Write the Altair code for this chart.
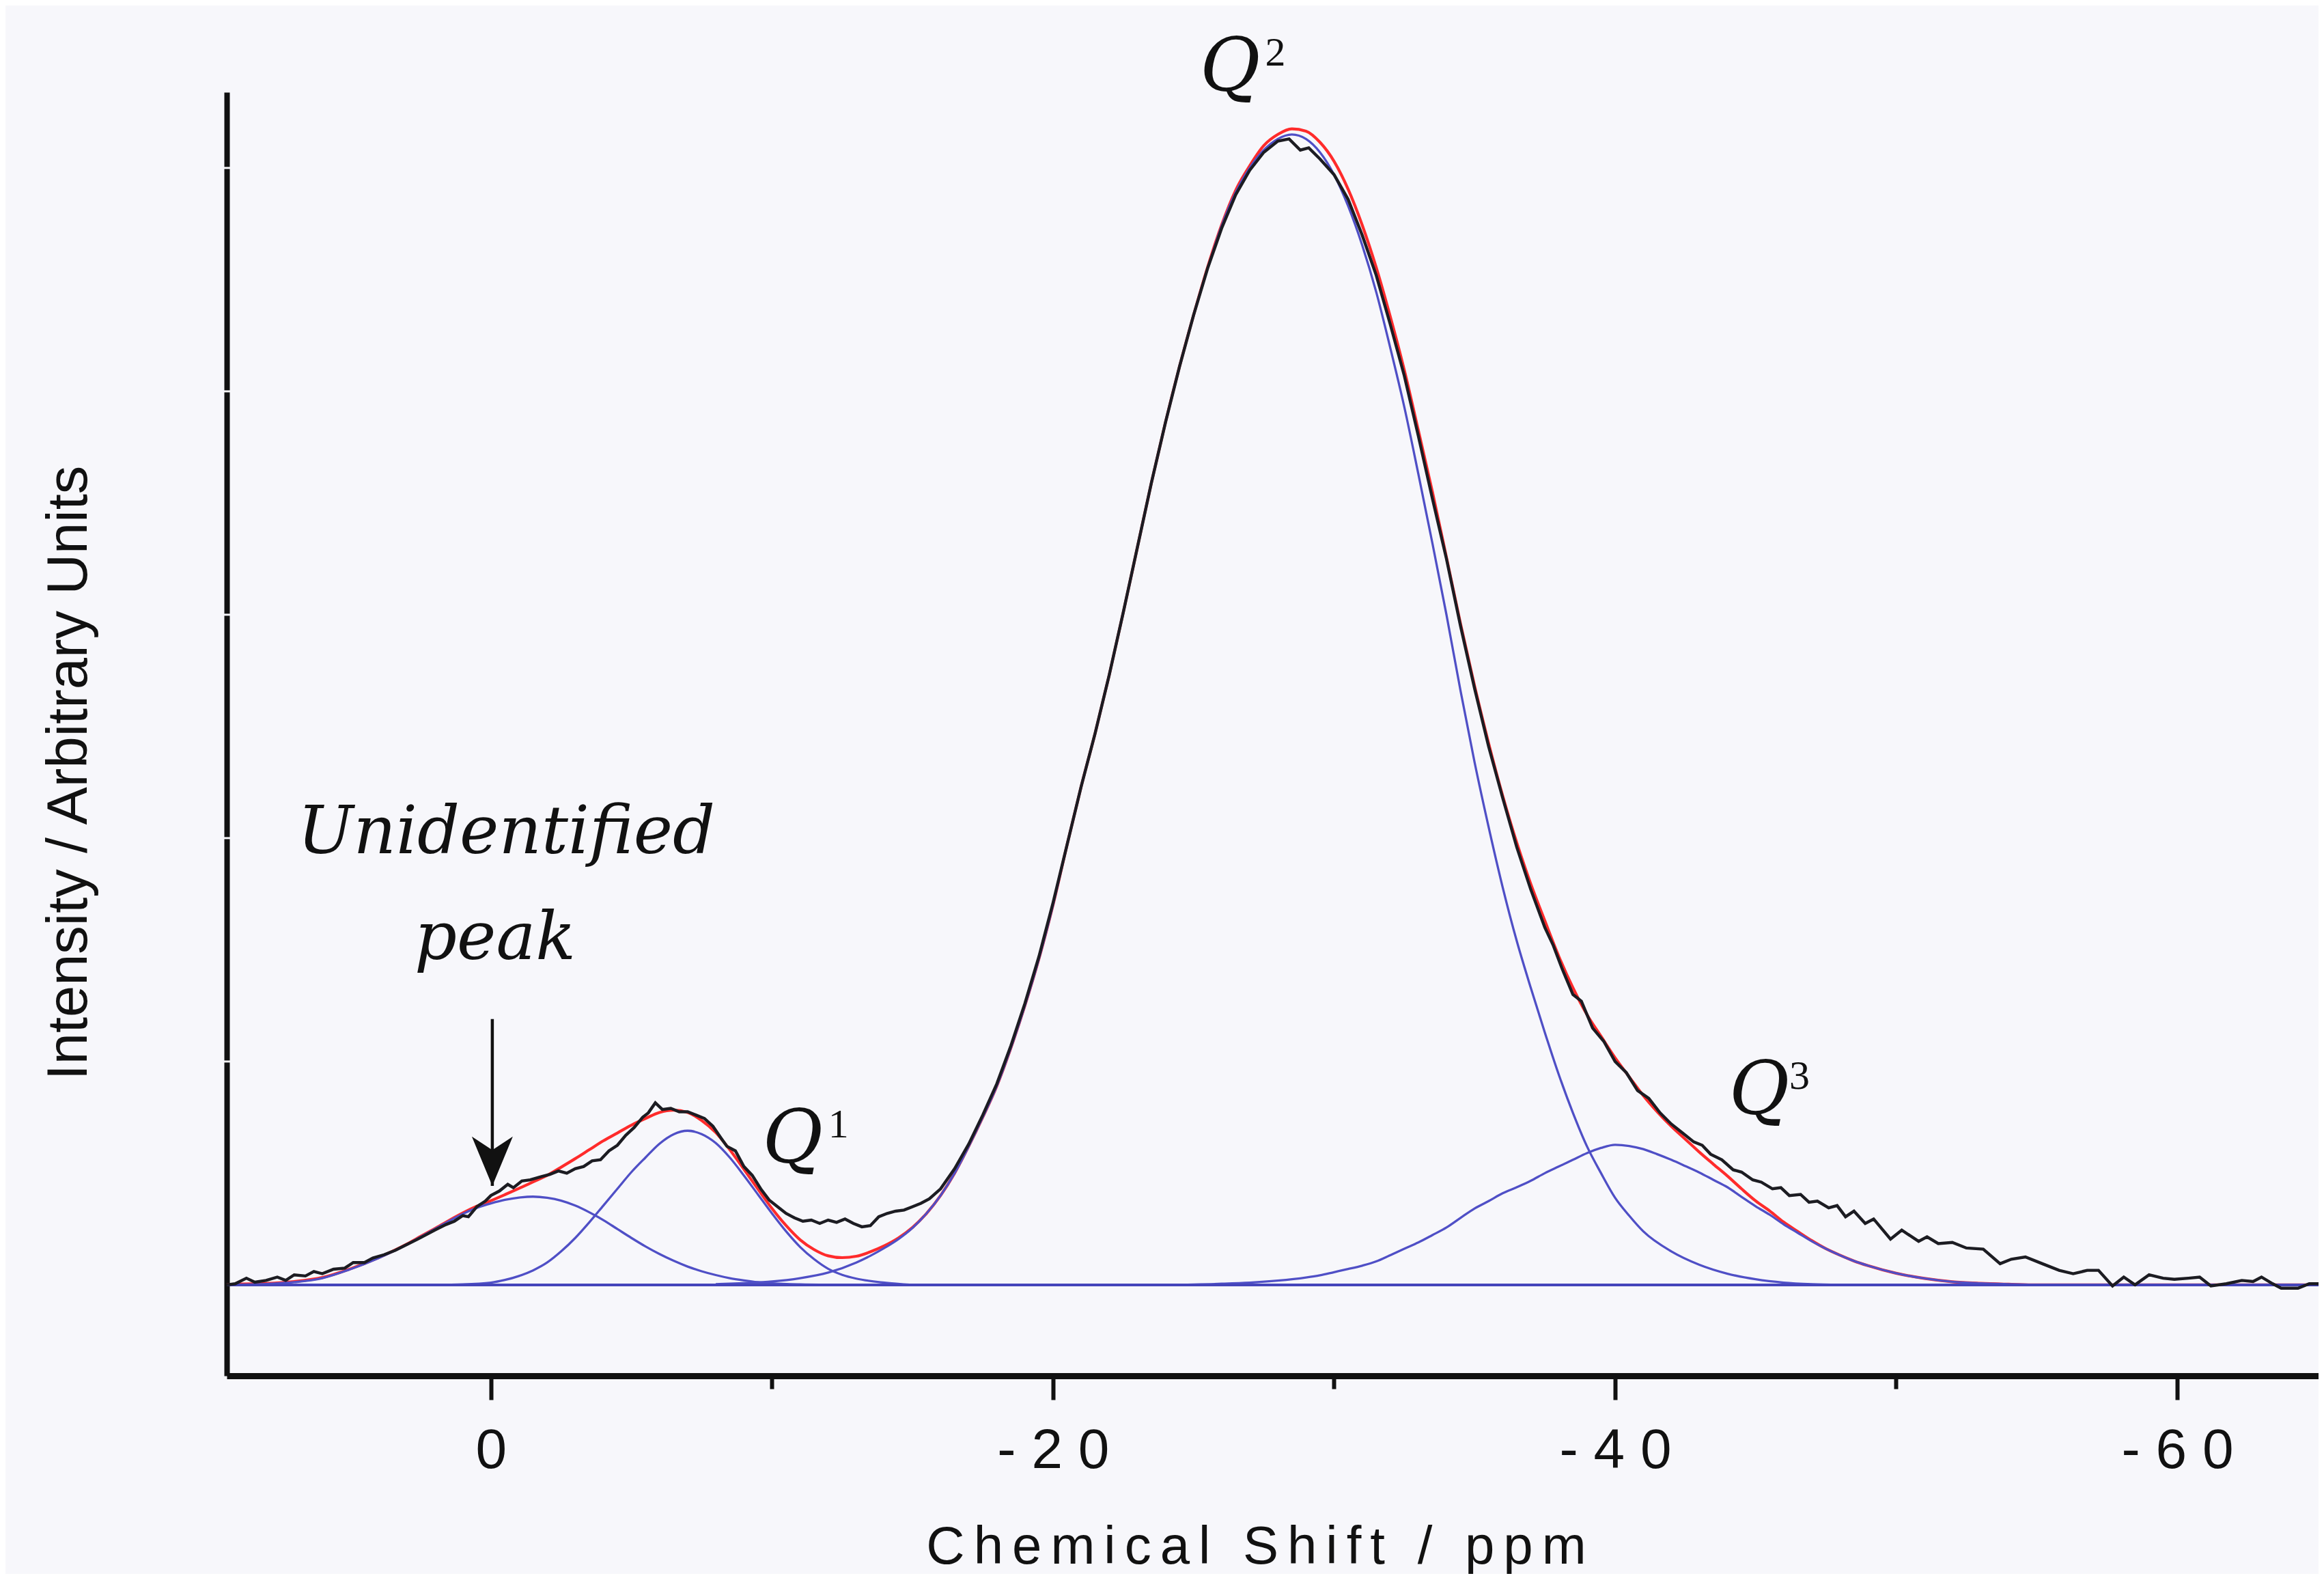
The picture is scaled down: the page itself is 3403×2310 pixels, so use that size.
import altair as alt
import pandas as pd

# ---------------- data ----------------
# chemical shift in ppm, intensity in arbitrary units (baseline = 0, one y tick = 1)
DATA_X = [9.4, 9.1, 8.7, 8.4, 8.0, 7.6, 7.3, 7.0, 6.6, 6.3, 6.0, 5.6, 5.2, 4.9, 4.5, 4.2, 3.8, 3.4,
          3.0, 2.6, 2.3, 2.0, 1.6, 1.3, 1.0, 0.8, 0.5, 0.2, 0.0, -0.3, -0.6, -0.8, -1.1, -1.4,
          -1.8, -2.1, -2.4, -2.7, -3.0, -3.3, -3.6, -3.9, -4.2, -4.5, -4.8, -5.1, -5.4, -5.6,
          -5.85, -6.1, -6.4, -6.7, -7.0, -7.3, -7.6, -7.9, -8.2, -8.4, -8.7, -9.0, -9.3, -9.6,
          -9.9, -10.2, -10.5, -10.8, -11.1, -11.4, -11.7, -12.0, -12.3, -12.6, -12.9, -13.2,
          -13.5, -13.8, -14.1, -14.4, -14.7, -15.0, -15.3, -15.6, -16.0, -16.5, -17.0, -17.5,
          -18.0, -18.5, -19.0, -19.5, -20.0, -20.5, -21.0, -21.5, -22.0, -22.5, -23.0, -23.5,
          -24.0, -24.5, -25.0, -25.5, -26.0, -26.5, -27.0, -27.5, -28.0, -28.4, -28.8, -29.1,
          -29.5, -30.0, -30.5, -31.0, -31.5, -32.0, -32.5, -33.0, -33.5, -34.0, -34.5, -35.0,
          -35.5, -36.0, -36.5, -37.0, -37.5, -37.8, -38.1, -38.5, -38.8, -39.2, -39.6, -40.0,
          -40.4, -40.8, -41.2, -41.6, -42.0, -42.4, -42.8, -43.1, -43.4, -43.8, -44.2, -44.5,
          -44.9, -45.2, -45.6, -45.9, -46.2, -46.6, -46.9, -47.2, -47.6, -47.9, -48.2, -48.5,
          -48.9, -49.2, -49.8, -50.2, -50.8, -51.1, -51.5, -52.0, -52.5, -53.1, -53.7, -54.1,
          -54.6, -55.2, -55.8, -56.3, -56.8, -57.2, -57.7, -58.1, -58.5, -59.0, -59.5, -59.9,
          -60.4, -60.8, -61.2, -61.75, -62.3, -62.7, -63.0, -63.4, -63.7, -64.3, -64.7, -65.03]
DATA_Y = [0.0, 0.005, 0.03, 0.012, 0.02, 0.035, 0.02, 0.045, 0.04, 0.06, 0.05, 0.07, 0.075, 0.1,
          0.1, 0.12, 0.135, 0.155, 0.18, 0.205, 0.225, 0.245, 0.27, 0.285, 0.31, 0.305, 0.35,
          0.375, 0.40, 0.42, 0.45, 0.435, 0.465, 0.47, 0.485, 0.495, 0.51, 0.50, 0.52, 0.53,
          0.555, 0.56, 0.60, 0.625, 0.67, 0.705, 0.75, 0.77, 0.815, 0.785, 0.79, 0.775, 0.775,
          0.76, 0.745, 0.71, 0.655, 0.62, 0.60, 0.53, 0.49, 0.43, 0.38, 0.35, 0.32, 0.30, 0.285,
          0.29, 0.275, 0.29, 0.28, 0.295, 0.275, 0.26, 0.265, 0.305, 0.32, 0.33, 0.335, 0.35,
          0.365, 0.385, 0.43, 0.52, 0.63, 0.76, 0.90, 1.07, 1.26, 1.47, 1.71, 1.97, 2.23, 2.47,
          2.73, 3.01, 3.30, 3.59, 3.86, 4.11, 4.34, 4.55, 4.73, 4.88, 4.99, 5.07, 5.12, 5.13,
          5.08, 5.09, 5.04, 4.97, 4.86, 4.70, 4.52, 4.30, 4.07, 3.80, 3.52, 3.25, 2.95, 2.67,
          2.41, 2.18, 1.96, 1.77, 1.60, 1.52, 1.42, 1.30, 1.27, 1.15, 1.09, 1.00, 0.95, 0.87,
          0.835, 0.77, 0.72, 0.68, 0.64, 0.625, 0.585, 0.56, 0.515, 0.505, 0.47, 0.46, 0.43, 0.435,
          0.40, 0.405, 0.37, 0.375, 0.345, 0.355, 0.305, 0.33, 0.275, 0.295, 0.205, 0.245, 0.195,
          0.215, 0.185, 0.19, 0.165, 0.16, 0.095, 0.115, 0.125, 0.095, 0.065, 0.05, 0.065, 0.065,
          -0.005, 0.035, 0.0, 0.045, 0.03, 0.025, 0.03, 0.035, -0.005, 0.005, 0.02, 0.015, 0.035,
          0.005, -0.015, -0.015, 0.005, 0.005]

FIT_X = [9.4, 9.0, 8.0, 7.0, 6.0, 5.0, 4.0, 3.0, 2.5, 2.0, 1.5, 1.0, 0.5, 0.0, -0.5, -1.0, -1.5,
         -2.0, -2.5, -3.0, -3.5, -4.0, -4.5, -5.0, -5.5, -6.0, -6.5, -7.0, -7.5, -8.0, -8.5,
         -9.0, -9.5, -10.0, -10.5, -11.0, -11.5, -12.0, -12.5, -13.0, -13.5, -14.0, -14.5,
         -15.0, -15.5, -16.0, -16.5, -17.0, -17.5, -18.0, -18.5, -19.0, -19.5, -20.0, -20.5,
         -21.0, -21.5, -22.0, -22.5, -23.0, -23.5, -24.0, -24.5, -25.0, -25.5, -26.0, -26.5,
         -27.0, -27.5, -28.0, -28.5, -29.0, -29.5, -30.0, -30.5, -31.0, -31.5, -32.0, -32.5,
         -33.0, -33.5, -34.0, -34.5, -35.0, -35.5, -36.0, -36.5, -37.0, -37.5, -38.0, -38.5,
         -39.0, -39.5, -40.0, -40.5, -41.0, -41.5, -42.0, -42.5, -43.0, -43.5, -44.0, -44.5,
         -45.0, -45.5, -46.0, -46.5, -47.0, -47.5, -48.0, -48.5, -49.0, -50.0, -51.0, -52.0,
         -53.0, -54.0, -55.0, -65.03]
FIT_Y = [0.0, 0.003, 0.006, 0.015, 0.033, 0.072, 0.122, 0.182, 0.217, 0.252, 0.288, 0.322, 0.352,
         0.377, 0.404, 0.432, 0.461, 0.49, 0.527, 0.565, 0.605, 0.645, 0.68, 0.715, 0.745, 0.772,
         0.782, 0.772, 0.736, 0.682, 0.605, 0.518, 0.429, 0.342, 0.266, 0.202, 0.158, 0.13,
         0.122, 0.128, 0.148, 0.175, 0.21, 0.257, 0.32, 0.40, 0.50, 0.62, 0.75, 0.89, 1.06, 1.25,
         1.46, 1.70, 1.97, 2.23, 2.47, 2.73, 3.01, 3.30, 3.59, 3.86, 4.11, 4.34, 4.555, 4.745,
         4.90, 5.01, 5.10, 5.15, 5.175, 5.165, 5.115, 5.03, 4.905, 4.745, 4.555, 4.335, 4.095,
         3.825, 3.55, 3.257, 2.96, 2.682, 2.425, 2.19, 1.98, 1.795, 1.63, 1.47, 1.33, 1.21, 1.113,
         1.017, 0.932, 0.848, 0.775, 0.71, 0.652, 0.594, 0.54, 0.487, 0.43, 0.376, 0.331, 0.281,
         0.239, 0.198, 0.162, 0.133, 0.107, 0.086, 0.052, 0.029, 0.014, 0.007, 0.003, 0.0, 0.0]

U_X = [9.4, 9.0, 8.0, 7.0, 6.0, 5.0, 4.0, 3.0, 2.5, 2.0, 1.5, 1.0, 0.5, 0.0, -0.5, -1.0, -1.5,
       -2.0, -2.5, -3.0, -3.5, -4.0, -4.5, -5.0, -5.5, -6.0, -6.5, -7.0, -7.5, -8.0, -8.5,
       -9.0, -9.5, -10.0, -11.0, -12.0]
U_Y = [0.0, 0.001, 0.004, 0.012, 0.03, 0.07, 0.12, 0.18, 0.215, 0.25, 0.285, 0.318, 0.345, 0.365,
       0.381, 0.391, 0.395, 0.39, 0.377, 0.355, 0.325, 0.29, 0.25, 0.21, 0.172, 0.138, 0.108,
       0.082, 0.061, 0.044, 0.03, 0.02, 0.012, 0.007, 0.002, 0.0]

Q1_X = [2.0, 1.0, 0.0, -0.5, -1.0, -1.5, -2.0, -2.5, -3.0, -3.5, -4.0, -4.5, -5.0, -5.5, -6.0,
        -6.5, -7.0, -7.5, -8.0, -8.5, -9.0, -9.5, -10.0, -10.5, -11.0, -11.5, -12.0, -12.5,
        -13.0, -14.0, -15.0]
Q1_Y = [0.0, 0.002, 0.01, 0.022, 0.04, 0.065, 0.10, 0.15, 0.21, 0.28, 0.355, 0.43, 0.505, 0.57,
        0.632, 0.674, 0.69, 0.675, 0.635, 0.57, 0.49, 0.405, 0.32, 0.24, 0.17, 0.115, 0.072,
        0.045, 0.028, 0.01, 0.0]

Q2_X = [-8.0, -9.0, -10.0, -11.0, -12.0, -13.0, -13.5, -14.0, -14.5, -15.0, -15.5, -16.0, -16.5,
        -17.0, -17.5, -18.0, -18.5, -19.0, -19.5, -20.0, -20.5, -21.0, -21.5, -22.0, -22.5,
        -23.0, -23.5, -24.0, -24.5, -25.0, -25.5, -26.0, -26.5, -27.0, -27.5, -28.0, -28.5,
        -29.0, -29.5, -30.0, -30.5, -31.0, -31.5, -32.0, -32.5, -33.0, -33.5, -34.0, -34.5,
        -35.0, -35.5, -36.0, -36.5, -37.0, -37.5, -38.0, -38.5, -39.0, -39.5, -40.0, -40.5,
        -41.0, -42.0, -43.0, -44.0, -45.0, -46.0, -47.0, -48.0]
Q2_Y = [0.003, 0.008, 0.015, 0.03, 0.055, 0.10, 0.13, 0.165, 0.205, 0.255, 0.32, 0.40, 0.50, 0.62,
        0.75, 0.89, 1.06, 1.25, 1.46, 1.70, 1.97, 2.23, 2.47, 2.73, 3.01, 3.30, 3.59, 3.86, 4.11,
        4.34, 4.55, 4.74, 4.89, 5.00, 5.08, 5.13, 5.15, 5.13, 5.07, 4.97, 4.83, 4.655, 4.445, 4.195,
        3.93, 3.63, 3.32, 3.00, 2.66, 2.34, 2.05, 1.78, 1.54, 1.33, 1.13, 0.94, 0.77, 0.62, 0.50,
        0.39, 0.31, 0.24, 0.15, 0.09, 0.05, 0.025, 0.01, 0.003, 0.0]

Q3_X = [-24.0, -26.0, -27.0, -28.0, -29.0, -29.5, -30.0, -30.5, -31.0, -31.5, -32.0, -32.5, -33.0,
        -33.5, -34.0, -34.5, -35.0, -35.5, -36.0, -36.5, -37.0, -37.5, -38.0, -38.5, -39.0,
        -39.5, -40.0, -40.5, -41.0, -41.5, -42.0, -42.5, -43.0, -43.5, -44.0, -44.5, -45.0,
        -45.5, -46.0, -46.5, -47.0, -47.5, -48.0, -48.5, -49.0, -50.0, -51.0, -52.0, -53.0,
        -54.0, -55.0]
Q3_Y = [0.0, 0.005, 0.01, 0.019, 0.033, 0.043, 0.057, 0.071, 0.086, 0.105, 0.133, 0.162, 0.19,
        0.223, 0.257, 0.30, 0.342, 0.375, 0.41, 0.437, 0.466, 0.50, 0.53, 0.56, 0.59, 0.613,
        0.627, 0.622, 0.608, 0.585, 0.56, 0.532, 0.503, 0.47, 0.437, 0.394, 0.352, 0.314, 0.271,
        0.233, 0.195, 0.162, 0.133, 0.107, 0.086, 0.052, 0.029, 0.014, 0.007, 0.003, 0.0]

BASE_X = [9.4, -65.03]
BASE_Y = [0.0, 0.0]

X_DOMAIN = [9.4, -65.03]
Y_DOMAIN = [-0.407, 5.339]
X_TICKS = [0, -10, -20, -30, -40, -50, -60]
Y_TICKS = [1, 2, 3, 4, 5]

TEXT_LABELS = ["Unidentified", "peak"]
TEXT_X = [-0.55, -0.15]
TEXT_Y = [1.933, 1.459]

Q_TEXT = ["Q", "Q", "Q"]
Q_X = [-26.3, -10.74, -45.13]
Q_Y = [5.346, 0.547, 0.765]
SUP_TEXT = ["2", "1", "3"]
SUP_X = [-27.55, -12.0, -46.2]
SUP_Y = [5.459, 0.66, 0.878]

ARROW_X = [-0.05]
ARROW_TOP = [1.19]
ARROW_TIP = [0.443]

X_TITLE = "Chemical Shift / ppm"
Y_TITLE = "Intensity / Arbitrary Units"

# ---------------- chart ----------------
PLOT_W, PLOT_H = 3063, 1879
BLACK = "#1c1c22"
RED = "#ff2b2b"
BLUE = "#4f4fc6"

xscale = alt.Scale(domain=X_DOMAIN, nice=False, zero=False)
yscale = alt.Scale(domain=Y_DOMAIN, nice=False, zero=False)

xaxis = alt.Axis(
    values=X_TICKS,
    labelExpr="datum.value % 20 === 0 ? join(split(toString(datum.value), ''), ' ') : ''",
    labelFont="Liberation Sans", labelFontSize=82, labelColor="#111111",
    labelPadding=34, labelFlush=False, labelOverlap=False,
    tickColor="#111111", tickWidth=6,
    tickSize={"condition": {"test": "datum.value % 20 === 0", "value": 35}, "value": 19},
    domainColor="#111111", domainWidth=9, grid=False,
    title="\u2006".join(list(X_TITLE)),
    titleFont="Liberation Sans", titleFontSize=78, titleFontWeight="normal",
    titleColor="#111111", titleX=1507, titleY=274, titleAlign="center",
    titleBaseline="alphabetic", titleAnchor="middle",
)
yaxis = alt.Axis(
    values=Y_TICKS, labels=False, ticks=False, grid=False,
    domainColor="#111111", domainWidth=8,
    title=Y_TITLE, titleFont="Liberation Sans", titleFontSize=83,
    titleFontWeight="normal", titleColor="#111111",
    titleAngle=270, titleX=-206, titleY=996, titleAlign="center",
    titleBaseline="alphabetic",
)

X = alt.X("x:Q", scale=xscale, axis=xaxis)
Y = alt.Y("y:Q", scale=yscale, axis=yaxis)


def frame(xs, ys):
    return pd.DataFrame({"x": xs, "y": ys})


fit = alt.Chart(frame(FIT_X, FIT_Y)).mark_line(
    color=RED, strokeWidth=4.2, interpolate="monotone").encode(x=X, y=Y)

comps = []
for xs, ys in [(U_X, U_Y), (Q1_X, Q1_Y), (Q2_X, Q2_Y), (Q3_X, Q3_Y)]:
    comps.append(alt.Chart(frame(xs, ys)).mark_line(
        color=BLUE, strokeWidth=3.3, interpolate="monotone").encode(x=X, y=Y))

base = alt.Chart(frame(BASE_X, BASE_Y)).mark_line(
    color="#4545bb", strokeWidth=4).encode(x=X, y=Y)

data = alt.Chart(frame(DATA_X, DATA_Y)).mark_line(
    color=BLACK, strokeWidth=4.4).encode(x=X, y=Y)

yticks = alt.Chart(pd.DataFrame({"y": Y_TICKS})).mark_rule(
    color="#f7f7fb", strokeWidth=3).encode(y=Y, x=alt.value(-5), x2=alt.value(5))

words = alt.Chart(pd.DataFrame({"x": TEXT_X, "y": TEXT_Y, "t": TEXT_LABELS})).mark_text(
    font="DejaVu Serif", fontStyle="italic", fontSize=97, align="center",
    baseline="alphabetic", color="#111111").encode(x=X, y=Y, text="t:N")

qs = alt.Chart(pd.DataFrame({"x": Q_X, "y": Q_Y, "t": Q_TEXT})).mark_text(
    font="DejaVu Serif", fontStyle="italic", fontSize=108, align="center",
    baseline="alphabetic", color="#111111").encode(x=X, y=Y, text="t:N")

sups = alt.Chart(pd.DataFrame({"x": SUP_X, "y": SUP_Y, "t": SUP_TEXT})).mark_text(
    font="Liberation Serif", fontSize=60, align="left",
    baseline="alphabetic", color="#111111").encode(x=X, y=Y, text="t:N")

arrow_df = pd.DataFrame({"x": ARROW_X, "y": ARROW_TOP, "y2": ARROW_TIP})
arrow_line = alt.Chart(arrow_df).mark_rule(
    color="#111111", strokeWidth=4.5).encode(x=X, y=Y, y2="y2:Q")
arrow_head = alt.Chart(pd.DataFrame({"x": ARROW_X, "y": ARROW_TIP})).mark_point(
    shape="M0,1 L-1,-1.41 L0,-0.75 L1,-1.41 Z", filled=True, size=3600,
    color="#111111", opacity=1, yOffset=-30).encode(x=X, y=Y)

chart = alt.layer(
    fit, *comps, base, data, yticks, arrow_line, arrow_head, words, qs, sups
).properties(
    width=PLOT_W, height=PLOT_H,
    padding={"left": 324, "top": 127, "right": 0, "bottom": 290},
    autosize=alt.AutoSizeParams(type="none"),
    background="#f7f7fb",
).configure_view(strokeWidth=0)

chart.save("out.html", embed_options={"renderer": "svg", "actions": False})
